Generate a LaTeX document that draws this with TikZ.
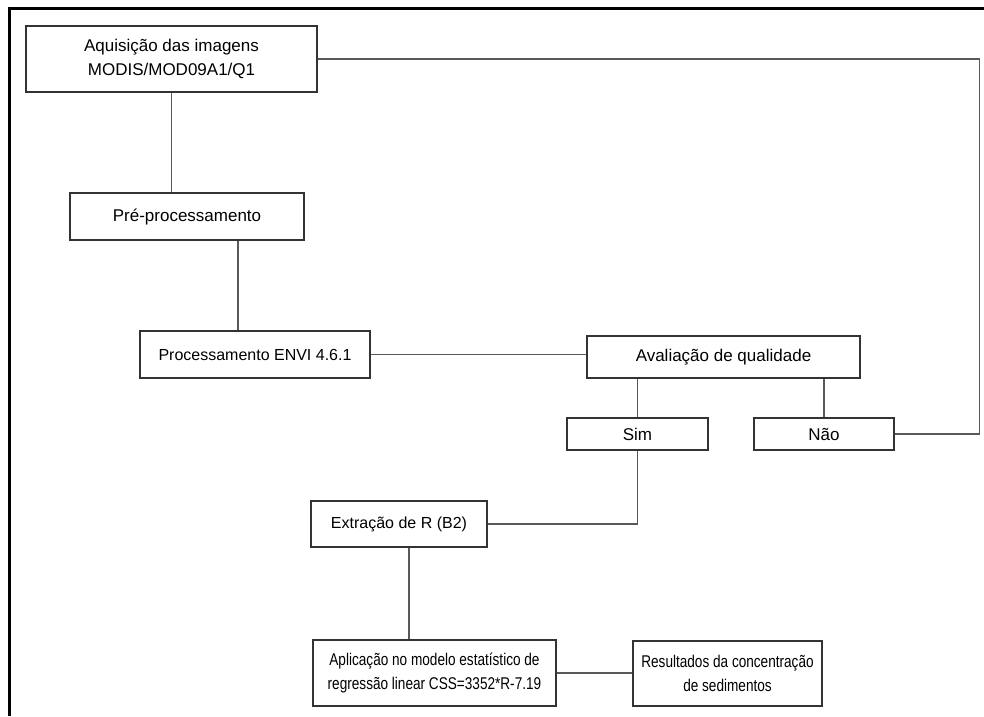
\documentclass[tikz,border=0pt]{standalone}
\usepackage{fontspec}
\usepackage{graphicx}
\setmainfont{Liberation Sans}
\newcommand{\estreito}[1]{\scalebox{0.8}[1]{#1}}

\tikzset{
  caixa/.style={draw=black!80, line width=1.2pt, fill=white, align=center,
    inner sep=0pt, font=\fontsize{17}{24}\selectfont},
  menor/.style={font=\fontsize{16}{24}\selectfont},
  liga/.style={draw=black!65, line width=1.2pt}
}

\begin{document}
\begin{tikzpicture}[x=1pt,y=-1pt]
  \useasboundingbox (0,0) rectangle (984,716);
  % moldura
  \draw[black, line width=3pt] (9,716) -- (9,8) -- (984,8);

  % caixas
  \node[caixa, minimum width=291pt, minimum height=66pt] (aquis) at (171.5,59)
    {Aquisição das imagens\\MODIS/MOD09A1/Q1};
  \node[caixa, minimum width=234pt, minimum height=47pt] (prep) at (187,216.5) {Pré-processamento};
  \node[caixa, menor, minimum width=230pt, minimum height=47pt] (proc) at (255,354.5) {Processamento ENVI 4.6.1};
  \node[caixa, minimum width=273pt, minimum height=42pt] (aval) at (723.5,357) {Avaliação de qualidade};
  \node[caixa, minimum width=141pt, minimum height=32pt] (sim) at (637.5,434) {Sim};
  \node[caixa, minimum width=140pt, minimum height=32pt] (nao) at (824,434) {Não};
  \node[caixa, menor, minimum width=176pt, minimum height=46pt] (extr) at (399,524) {Extração de R (B2)};
  \node[caixa, minimum width=243pt, minimum height=66pt] (aplic) at (434.5,673)
    {\estreito{Aplicação no modelo estatístico de}\\\estreito{regressão linear CSS=3352*R-7.19}};
  \node[caixa, minimum width=189pt, minimum height=65pt] (result) at (727.5,673.5)
    {\estreito{Resultados da concentração}\\\estreito{de sedimentos}};

  % ligacoes
  \coordinate (pp) at ([xshift=51pt]prep.south);
  \coordinate (ee) at ([xshift=10pt]extr.south);
  \draw[liga] (aquis.south) -- (aquis.south |- prep.north);
  \draw[liga] (pp) -- (pp |- proc.north);
  \draw[liga] (proc.east) -- (proc.east -| aval.west);
  \draw[liga] (sim.north) -- (sim.north |- aval.south);
  \draw[liga] (nao.north) -- (nao.north |- aval.south);
  \draw[liga] (nao.east) -- ++(85,0) |- (aquis.east);
  \draw[liga] (sim.south) |- (extr.east);
  \draw[liga] (ee) -- (ee |- aplic.north);
  \draw[liga] (aplic.east) -- (aplic.east -| result.west);
\end{tikzpicture}
\end{document}
